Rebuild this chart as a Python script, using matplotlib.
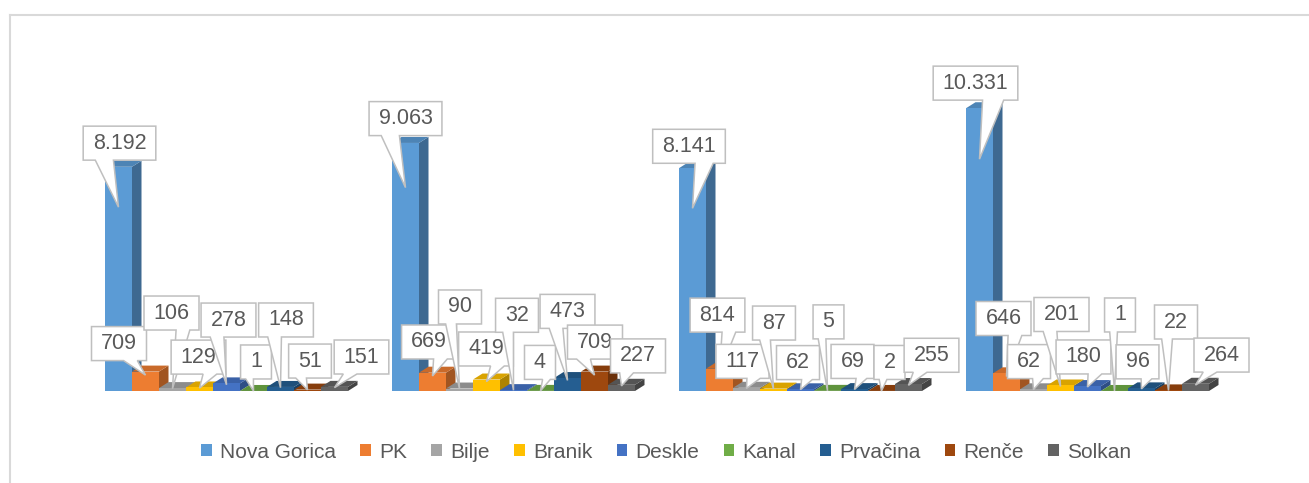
import matplotlib
matplotlib.use("Agg")
import matplotlib.pyplot as plt
import matplotlib.colors as mcolors
from matplotlib.patches import Polygon, Patch
from matplotlib.lines import Line2D
import numpy as np

plt.rcParams['font.family'] = ['Liberation Sans', 'DejaVu Sans']

# ---------------- data ----------------
series = ["Nova Gorica", "PK", "Bilje", "Branik", "Deskle", "Kanal", "Prvačina", "Renče", "Solkan"]
group1 = [8192, 709, 106, 129, 278, 1, 148, 51, 151]
group2 = [9063, 669, 90, 419, 32, 4, 473, 709, 227]
group3 = [8141, 814, 117, 87, 62, 5, 69, 2, 255]
group4 = [10331, 646, 62, 201, 180, 1, 96, 22, 264]
groups = [group1, group2, group3, group4]

colors = ["#5B9BD5", "#ED7D31", "#A5A5A5", "#FFC000", "#4472C4",
          "#70AD47", "#255E91", "#9E480E", "#636363"]

# label box offsets (pixels, relative to pointer tip) - layout only
label_offsets = [
    [(1, 64), (-26.5, 31.5), (-1, 75.6), (-1, 31), (2, 64.7), (2.5, 29), (5.5, 67.7), (2.5, 28.8), (27, 30.6)],
    [(0, 69), (-3.5, 34), (0.5, 82), (-0.5, 32.6), (3.5, 75), (-0.5, 28.5), (0, 69), (0.5, 33), (16.5, 30)],
    [(-3.5, 62), (-2, 57.6), (-4, 27), (0.5, 66), (-2.5, 27), (1, 69), (-2, 28), (8, 28.5), (23, 30)],
    [(-4, 76), (-3, 58), (-4.5, 28), (1, 72), (-4, 30), (5.5, 76), (-4, 27), (7.5, 68.5), (26, 30)],
]

# ---------------- layout ----------------
W, H, DPI = 1309, 483, 100
fig = plt.figure(figsize=(W / DPI, H / DPI), dpi=DPI)
fig.patch.set_facecolor("white")
ax = fig.add_axes([0, 0, 1, 1])
ax.set_axis_off()

SLOT_PX = 27.0
X0_PX = 105.0
BASE_PX = 391.0
K = 0.02737  # px per unit
ax.set_xlim(-X0_PX / SLOT_PX, (W - X0_PX) / SLOT_PX)
ax.set_ylim(-(H - BASE_PX) / K, BASE_PX / K)

GROUP_STEP = 287.0 / SLOT_PX
DDX = 9.5 / SLOT_PX
DDY = 6.0 / K
BAR_W = 1.0


def shade(c, f):
    r, g, b = mcolors.to_rgb(c)
    return (r * f, g * f, b * f)


z = 1
for g, vals in enumerate(groups):
    for s, v in enumerate(vals):
        x = g * GROUP_STEP + s
        col = colors[s]
        ax.bar(x, v, width=BAR_W, align='edge', color=col, linewidth=0, zorder=z + 2)
        side = Polygon([(x + BAR_W, 0), (x + BAR_W + DDX, DDY), (x + BAR_W + DDX, v + DDY), (x + BAR_W, v)],
                       closed=True, facecolor=shade(col, 0.68), edgecolor='none', zorder=z)
        top = Polygon([(x, v), (x + DDX, v + DDY), (x + BAR_W + DDX, v + DDY), (x + BAR_W, v)],
                      closed=True, facecolor=shade(col, 0.85), edgecolor='none', zorder=z + 1)
        ax.add_patch(side)
        ax.add_patch(top)
        z += 3

# ---------------- callout labels ----------------
fig.canvas.draw()
renderer = fig.canvas.get_renderer()
inv = ax.transData.inverted()

PADX = 9.5
BOX_H = 34.0
zl = 1000
for s in range(len(series)):
    for g, vals in enumerate(groups):
        v = vals[s]
        x = g * GROUP_STEP + s
        tip_data = (x + BAR_W / 2, 0.82 * v)
        tx, ty = ax.transData.transform(tip_data)
        ox, oy = label_offsets[g][s]
        cx, cy = tx + ox, ty + oy
        txt = f"{v:,}".replace(",", ".")
        t = ax.text(*inv.transform((cx, cy)), txt, ha='center', va='center',
                    fontsize=15.5, color='#595959', zorder=zl + 1)
        bb = t.get_window_extent(renderer)
        w = bb.width + 2 * PADX
        h = BOX_H
        # local coordinates, y down, origin at box top-left
        dxp = tx - cx
        dyp = cy - ty  # positive when tip below
        ltx = dxp + w / 2
        lty = dyp + h / 2
        pts = [(0, 0), (w, 0), (w, h), (0, h)]
        inside = abs(dxp) < w / 2 and abs(dyp) < h / 2
        if not inside:
            dq = dxp * h / w
            dz = abs(dyp) - abs(dq)
            if dz > 0:
                xg1, xg2 = (7, 10) if dxp > 0 else (2, 5)
                x1, x2 = w * xg1 / 12, w * xg2 / 12
                if dyp > 0:
                    pts = [(0, 0), (w, 0), (w, h), (x2, h), (ltx, lty), (x1, h), (0, h)]
                else:
                    pts = [(0, 0), (x1, 0), (ltx, lty), (x2, 0), (w, 0), (w, h), (0, h)]
            else:
                yg1, yg2 = (7, 10) if dyp > 0 else (2, 5)
                y1, y2 = h * yg1 / 12, h * yg2 / 12
                if dxp > 0:
                    pts = [(0, 0), (w, 0), (w, y1), (ltx, lty), (w, y2), (w, h), (0, h)]
                else:
                    pts = [(0, 0), (w, 0), (w, h), (0, h), (0, y2), (ltx, lty), (0, y1)]
        disp = [(cx - w / 2 + px, cy + h / 2 - py) for px, py in pts]
        data_pts = inv.transform(np.array(disp))
        poly = Polygon(data_pts, closed=True, facecolor='white', edgecolor='#BFBFBF',
                       linewidth=1.1, joinstyle='miter', zorder=zl)
        ax.add_patch(poly)
        zl += 2

# ---------------- chart border ----------------
bx = 9.5 / W
by = 1 - 14.5 / H
fig.add_artist(Line2D([bx, bx], [0, by], transform=fig.transFigure, color='#D9D9D9', linewidth=1.5))
fig.add_artist(Line2D([bx, 1], [by, by], transform=fig.transFigure, color='#D9D9D9', linewidth=1.5))

# ---------------- legend ----------------
handles = [Patch(facecolor=c, edgecolor='none') for c in colors]
leg = fig.legend(handles, series, loc='center', bbox_to_anchor=(0.509, 0.064), ncol=len(series),
                 frameon=False, fontsize=15, handlelength=0.5, handleheight=0.5,
                 handletextpad=0.4, columnspacing=1.17, borderaxespad=0)
for t in leg.get_texts():
    t.set_color('#595959')

fig.savefig("out.png", dpi=DPI, facecolor='white')
